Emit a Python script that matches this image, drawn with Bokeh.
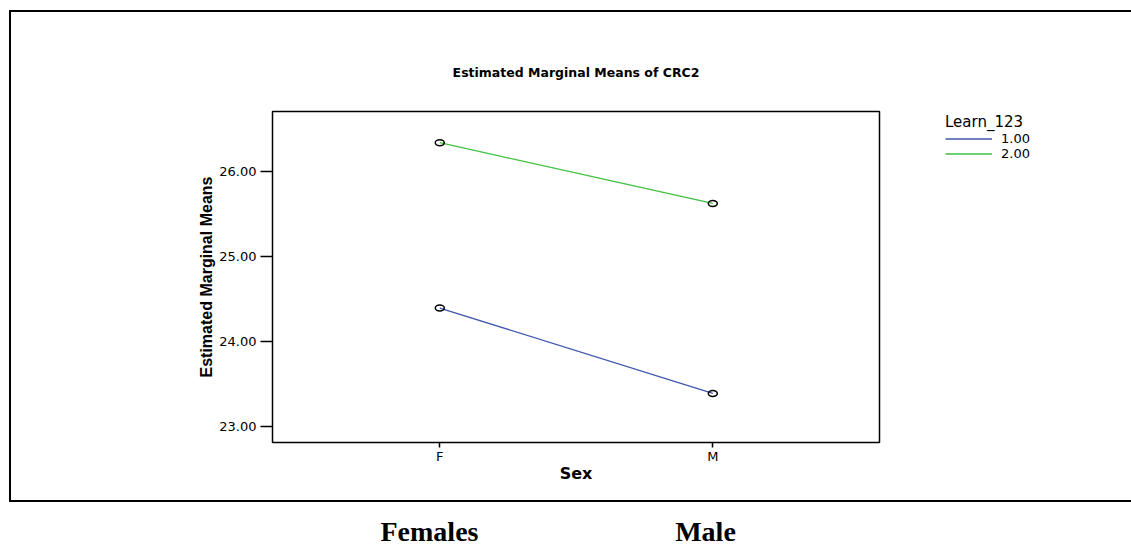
from bokeh.plotting import figure
from bokeh.models import (Range1d, FixedTicker, PrintfTickFormatter, Legend,
                          LegendItem, LinearAxis)
from bokeh.embed import file_html
from bokeh.resources import INLINE

# ---- data ----
sex_categories = ["F", "M"]
group_labels = ["1.00", "2.00"]
means_group1 = [24.39, 23.385]
means_group2 = [26.335, 25.62]
y_ticks = [23.0, 24.0, 25.0, 26.0]
bottom_captions = ["Females", "Male"]
group_colors = ["#3E58AC", "#3EC13E"]

x_pos = list(range(len(sex_categories)))

SANS = "DejaVu Sans"

p = figure(frame_width=607, frame_height=331,
           min_border_left=272, min_border_right=252,
           min_border_top=111, min_border_bottom=103,
           x_range=Range1d(-0.6127, 1.6105), y_range=Range1d(22.808, 26.702),
           output_backend="svg", toolbar_location=None,
           title="Estimated Marginal Means of CRC2")

p.title.align = "center"
p.title.text_font = SANS
p.title.text_font_size = "12.5px"
p.title.text_font_style = "bold"
p.title.text_color = "black"
p.title.standoff = 63

p.xgrid.visible = False
p.ygrid.visible = False
p.outline_line_color = "black"
p.outline_line_width = 1.5
p.background_fill_color = "white"
p.border_fill_color = None

# outer box of the chart page (drawn as a background of the plot element)
p.styles = {
    "background-color": "white",
    "background-image": "linear-gradient(#000,#000), linear-gradient(#000,#000), linear-gradient(#000,#000)",
    "background-repeat": "no-repeat",
    "background-size": "1131px 2px, 2px 492px, 1131px 2px",
    "background-position": "9px 10px, 9px 10px, 9px 500px",
}

# x axis
p.xaxis.ticker = FixedTicker(ticks=x_pos)
p.xaxis.major_label_overrides = {i: s for i, s in zip(x_pos, sex_categories)}
p.xaxis.axis_label = "Sex"
p.xaxis.axis_label_text_font = SANS
p.xaxis.axis_label_text_font_style = "bold"
p.xaxis.axis_label_text_font_size = "16px"
p.xaxis.axis_label_standoff = -3
p.xaxis.major_tick_out = 5
p.xaxis.major_label_standoff = 1

# y axis
p.yaxis.ticker = FixedTicker(ticks=y_ticks)
p.yaxis.formatter = PrintfTickFormatter(format="%.2f")
p.yaxis.axis_label = "Estimated Marginal Means"
p.yaxis.axis_label_text_font = "Liberation Sans"
p.yaxis.axis_label_text_font_style = "bold"
p.yaxis.axis_label_text_font_size = "16px"
p.yaxis.axis_label_standoff = 1
p.yaxis.major_tick_out = 12
p.yaxis.major_label_standoff = 4

for ax in (p.xaxis, p.yaxis):
    ax.axis_line_color = None
    ax.major_tick_in = 0
    ax.minor_tick_line_color = None
    ax.major_tick_line_color = "black"
    ax.major_tick_line_width = 1.5
    ax.major_label_text_font = SANS
    ax.major_label_text_font_size = "13px"
    ax.major_label_text_color = "black"
    ax.axis_label_text_color = "black"

# captions under the chart, placed under the two categories
p.extra_x_ranges = {"captions": Range1d(-0.5688, 1.6304)}
cap_axis = LinearAxis(x_range_name="captions", ticker=FixedTicker(ticks=x_pos),
                      major_label_overrides={i: s for i, s in zip(x_pos, bottom_captions)},
                      axis_line_color=None, major_tick_line_color=None,
                      minor_tick_line_color=None, major_tick_in=0, major_tick_out=0,
                      major_label_standoff=30,
                      major_label_text_font="Liberation Serif",
                      major_label_text_font_style="bold",
                      major_label_text_font_size="28px",
                      major_label_text_color="black")
p.add_layout(cap_axis, "below")

# ---- series ----
items = []
for label, means, color in zip(group_labels, [means_group1, means_group2], group_colors):
    r = p.line(x_pos, means, line_color=color, line_width=1.3)
    p.ellipse(x_pos, means, width=9, height=6, width_units="screen",
              height_units="screen", fill_color=None, line_color="black",
              line_width=1.5)
    items.append(LegendItem(label=label, renderers=[r]))

legend = Legend(items=items, location=(66, 281), title="Learn_123",
                title_text_font=SANS, title_text_font_size="15px",
                title_text_font_style="normal", title_text_color="black",
                title_standoff=-2,
                label_text_font=SANS, label_text_font_size="13px",
                label_text_color="black",
                glyph_width=47, glyph_height=15, label_height=15,
                label_standoff=9, padding=0, margin=0, spacing=0,
                border_line_color=None, background_fill_alpha=0)
p.add_layout(legend, "right")

open("out.html", "w").write(file_html(p, INLINE))
